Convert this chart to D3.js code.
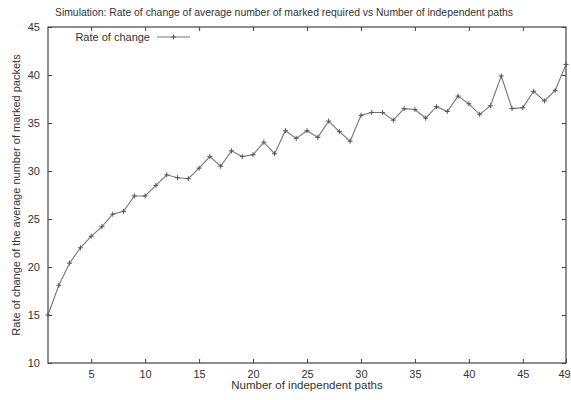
<!DOCTYPE html>
<html>
<head>
<meta charset="utf-8">
<script src="https://cdn.jsdelivr.net/npm/d3@7"></script>
<style>
  body { margin: 0; background: #fff; }
  svg { display: block; font-family: "Liberation Sans", Arial, sans-serif; }
</style>
</head>
<body>
<div id="chart"></div>
<script>
// number of independent paths
const paths = d3.range(1, 50);

// rate of change
const rate = [
  15.0, 18.1, 20.4, 22.0, 23.2, 24.2, 25.5, 25.8, 27.4, 27.4,
  28.5, 29.6, 29.3, 29.2, 30.3, 31.5, 30.5, 32.1, 31.5, 31.7,
  33.0, 31.8, 34.2, 33.4, 34.2, 33.5, 35.2, 34.1, 33.1, 35.8,
  36.1, 36.1, 35.3, 36.5, 36.4, 35.5, 36.7, 36.2, 37.8, 37.0,
  35.9, 36.8, 39.9, 36.5, 36.6, 38.3, 37.3, 38.4, 41.1
];

const xTicks = [5, 10, 15, 20, 25, 30, 35, 40, 45, 49];
const yTicks = [10, 15, 20, 25, 30, 35, 40, 45];

const width = 571, height = 400;
const margin = {top: 27, right: 5, bottom: 37, left: 48};

const svg = d3.select("#chart").append("svg")
    .attr("width", width)
    .attr("height", height);

const x = d3.scaleLinear()
    .domain([1, 49])
    .range([margin.left, width - margin.right]);

const y = d3.scaleLinear()
    .domain([10, 45])
    .range([height - margin.bottom, margin.top]);

const frameColor = "#444";
const tick = 4;

// ticks (gnuplot style, inward and mirrored)
const xAxisB = d3.axisBottom(x).tickValues(xTicks).tickSize(-tick).tickPadding(7);
const xAxisT = d3.axisTop(x).tickValues(xTicks.filter(d => d < 49)).tickSize(-tick).tickFormat("");
const yAxisL = d3.axisLeft(y).tickValues(yTicks).tickSize(-tick).tickPadding(8);
const yAxisR = d3.axisRight(y).tickValues(yTicks).tickSize(-tick).tickFormat("");

function style(g) {
  g.select(".domain").remove();
  g.selectAll(".tick line").attr("stroke", frameColor);
  g.selectAll(".tick text")
    .attr("fill", "#333")
    .style("font-size", "11px")
    .style("font-family", "Liberation Sans, Arial, sans-serif");
}

svg.append("g").attr("transform", `translate(0,${y(10)})`).call(xAxisB).call(style)
  .selectAll(".tick text").filter(d => d === 49).attr("dx", "-2");
svg.append("g").attr("transform", `translate(0,${y(45)})`).call(xAxisT).call(style);
svg.append("g").attr("transform", `translate(${x(1)},0)`).call(yAxisL).call(style);
svg.append("g").attr("transform", `translate(${x(49)},0)`).call(yAxisR).call(style);

// frame
svg.append("rect")
    .attr("x", x(1))
    .attr("y", y(45))
    .attr("width", x(49) - x(1))
    .attr("height", y(10) - y(45))
    .attr("fill", "none")
    .attr("stroke", frameColor)
    .attr("stroke-width", 1.2);

// data line
const line = d3.line()
    .x((d, i) => x(paths[i]))
    .y(d => y(d));

svg.append("path")
    .datum(rate)
    .attr("fill", "none")
    .attr("stroke", "#777")
    .attr("stroke-width", 1.1)
    .attr("d", line);

// plus markers
const m = 2.5;
const plus = svg.append("g").attr("stroke", "#555").attr("stroke-width", 1);
plus.selectAll("path.mk")
  .data(rate)
  .join("path")
    .attr("class", "mk")
    .attr("d", (d, i) => {
      const cx = x(paths[i]), cy = y(d);
      return `M${cx - m},${cy}H${cx + m}M${cx},${cy - m}V${cy + m}`;
    });

// legend
const lg = svg.append("g");
lg.append("text")
    .attr("x", 150)
    .attr("y", 41)
    .attr("text-anchor", "end")
    .attr("fill", "#333")
    .style("font-size", "11px")
    .text("Rate of change");
lg.append("line")
    .attr("x1", 157).attr("x2", 190)
    .attr("y1", 37).attr("y2", 37)
    .attr("stroke", "#777")
    .attr("stroke-width", 1.1);
lg.append("path")
    .attr("d", `M${173.5 - m},37H${173.5 + m}M173.5,${37 - m}V${37 + m}`)
    .attr("stroke", "#555");

// title
svg.append("text")
    .attr("x", 284)
    .attr("y", 16)
    .attr("text-anchor", "middle")
    .attr("fill", "#333")
    .style("font-size", "10.4px")
    .text("Simulation: Rate of change of average number of marked required vs Number of independent paths");

// axis titles
svg.append("text")
    .attr("x", (x(1) + x(49)) / 2)
    .attr("y", 389)
    .attr("text-anchor", "middle")
    .attr("fill", "#333")
    .style("font-size", "11.5px")
    .text("Number of independent paths");

svg.append("text")
    .attr("transform", `translate(20,${(y(10) + y(45)) / 2}) rotate(-90)`)
    .attr("text-anchor", "middle")
    .attr("fill", "#333")
    .style("font-size", "11px")
    .text("Rate of change of the average number of marked packets");
</script>
</body>
</html>
